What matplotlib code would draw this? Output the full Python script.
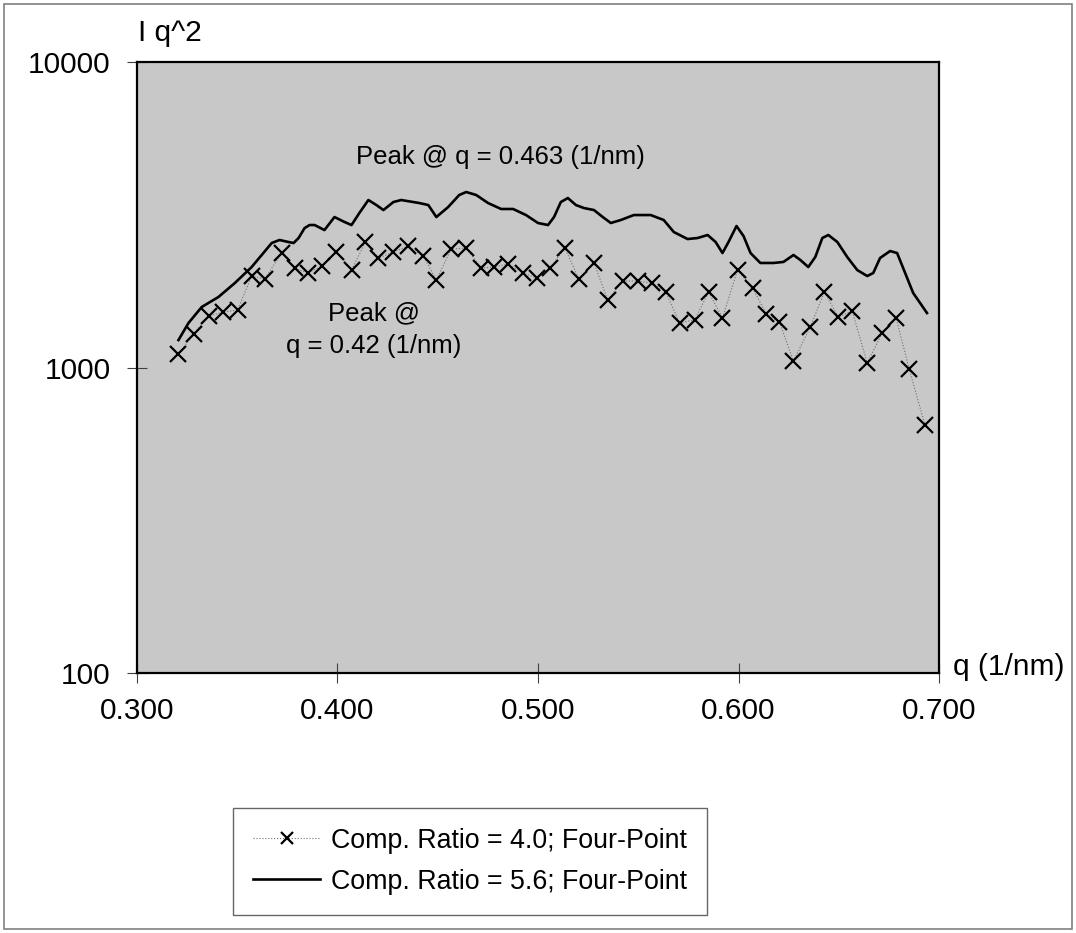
import numpy as np
import matplotlib
matplotlib.use("Agg")
import matplotlib.pyplot as plt
from matplotlib.patches import Rectangle
from matplotlib.ticker import FixedLocator, NullLocator

plt.rcParams['font.family'] = ['Liberation Sans', 'DejaVu Sans']

# Comp. Ratio = 4.0 (crosses)
q_40 = [0.3207, 0.3282, 0.3357, 0.3431, 0.3502, 0.3572, 0.3637, 0.3721, 0.3786, 0.3851,
        0.3925, 0.3995, 0.4070, 0.4139, 0.4204, 0.4279, 0.4353, 0.4428, 0.4493, 0.4567,
        0.4642, 0.4716, 0.4781, 0.4851, 0.4925, 0.4995, 0.5060, 0.5134, 0.5204, 0.5279,
        0.5348, 0.5423, 0.5498, 0.5567, 0.5637, 0.5706, 0.5781, 0.5851, 0.5920, 0.5995,
        0.6070, 0.6139, 0.6204, 0.6274, 0.6358, 0.6428, 0.6498, 0.6567, 0.6642, 0.6716,
        0.6786, 0.6851, 0.6930]
I_40 = [1107, 1287, 1474, 1519, 1542, 1993, 1949, 2370, 2117, 2039,
        2150, 2388, 2085, 2575, 2283, 2388, 2497, 2317, 1934, 2442,
        2461, 2117, 2133, 2183, 2039, 1963, 2117, 2461, 1949, 2199,
        1663, 1919, 1919, 1890, 1767, 1399, 1431, 1767, 1453, 2085,
        1820, 1496, 1410, 1050, 1357, 1767, 1464, 1531, 1034, 1297,
        1453, 989, 648]

# Comp. Ratio = 5.6 (solid line)
q_56 = [0.3207, 0.3257, 0.3323, 0.3406, 0.3488, 0.3572, 0.3622, 0.3672, 0.3711, 0.3756,
        0.3781, 0.3806, 0.3836, 0.3861, 0.3886, 0.3935, 0.3985, 0.4035, 0.4070, 0.4109,
        0.4154, 0.4194, 0.4229, 0.4279, 0.4318, 0.4408, 0.4453, 0.4493, 0.4552, 0.4607,
        0.4642, 0.4692, 0.4751, 0.4816, 0.4876, 0.4940, 0.5000, 0.5050, 0.5080, 0.5114,
        0.5149, 0.5189, 0.5229, 0.5279, 0.5323, 0.5363, 0.5413, 0.5478, 0.5562, 0.5627,
        0.5677, 0.5746, 0.5796, 0.5846, 0.5886, 0.5920, 0.5950, 0.5990, 0.6025, 0.6060,
        0.6109, 0.6174, 0.6224, 0.6274, 0.6308, 0.6348, 0.6383, 0.6418, 0.6448, 0.6493,
        0.6542, 0.6592, 0.6642, 0.6672, 0.6706, 0.6756, 0.6791, 0.6831, 0.6871, 0.6940]
I_56 = [1230, 1399, 1578, 1701, 1890, 2133, 2335, 2556, 2615, 2575,
        2556, 2654, 2861, 2927, 2927, 2818, 3109, 2995, 2927, 3204,
        3534, 3403, 3277, 3482, 3534, 3455, 3403, 3109, 3352, 3670,
        3754, 3670, 3455, 3303, 3303, 3156, 2972, 2927, 3109, 3482,
        3588, 3403, 3327, 3277, 3109, 2972, 3040, 3156, 3156, 3040,
        2777, 2634, 2654, 2715, 2575, 2370, 2575, 2905, 2694, 2370,
        2199, 2199, 2216, 2335, 2250, 2133, 2301, 2654, 2715, 2575,
        2301, 2085, 1993, 2039, 2283, 2406, 2370, 2039, 1754, 1508]

x_ticks = [0.3, 0.4, 0.5, 0.6, 0.7]
x_labels = ['0.300', '0.400', '0.500', '0.600', '0.700']
y_ticks = [100, 1000, 10000]
y_labels = ['100', '1000', '10000']

fig = plt.figure(figsize=(10.76, 9.33), dpi=100)
ax = fig.add_axes([0.1273, 0.2787, 0.8727 - 0.1273, 0.9335 - 0.2787])
ax.set_facecolor('#c8c8c8')

ax.plot(q_40, I_40, color='#707070', lw=0.8, ls=':', marker='x', ms=11,
        mec='black', mew=1.6, label='Comp. Ratio = 4.0; Four-Point')
ax.plot(q_56, I_56, color='black', lw=1.9, label='Comp. Ratio = 5.6; Four-Point')

ax.set_yscale('log')
ax.set_xlim(0.3, 0.7)
ax.set_ylim(100, 10000)
ax.xaxis.set_major_locator(FixedLocator(x_ticks))
ax.set_xticklabels(x_labels)
ax.yaxis.set_major_locator(FixedLocator(y_ticks))
ax.yaxis.set_minor_locator(NullLocator())
ax.set_yticklabels(y_labels)
ax.tick_params(axis='both', direction='inout', length=14, width=0.8,
               color='#404040', labelsize=21.5)
ax.tick_params(axis='x', pad=10)
ax.tick_params(axis='y', pad=12)
for s in ax.spines.values():
    s.set_linewidth(1.6)
    s.set_color('black')

# axis titles placed like the original
fig.text(138 / 1076, 1 - 33 / 933, 'I q^2', fontsize=21.5, ha='left', va='center')
fig.text(953 / 1076, 1 - 667 / 933, 'q (1/nm)', fontsize=21.5, ha='left', va='center')

ax.text(0.4815, 4900, 'Peak @ q = 0.463 (1/nm)', fontsize=18.5, ha='center', va='center')
ax.text(0.418, 1330, 'Peak @\nq = 0.42 (1/nm)', fontsize=18.5, ha='center', va='center',
        linespacing=1.45)

leg = ax.legend(loc='center', bbox_to_anchor=(0.437, 0.077),
                bbox_transform=fig.transFigure, fontsize=19.3, frameon=True,
                fancybox=False, edgecolor='#404040', handlelength=2.5,
                handletextpad=0.4, labelspacing=0.55, borderpad=0.75, markerscale=0.75)
leg.get_frame().set_linewidth(1.0)

fig.patches.append(Rectangle((0.004, 0.004), 0.992, 0.992, transform=fig.transFigure,
                             fill=False, edgecolor='#808080', lw=1.2))

fig.savefig('out.png', dpi=100)
